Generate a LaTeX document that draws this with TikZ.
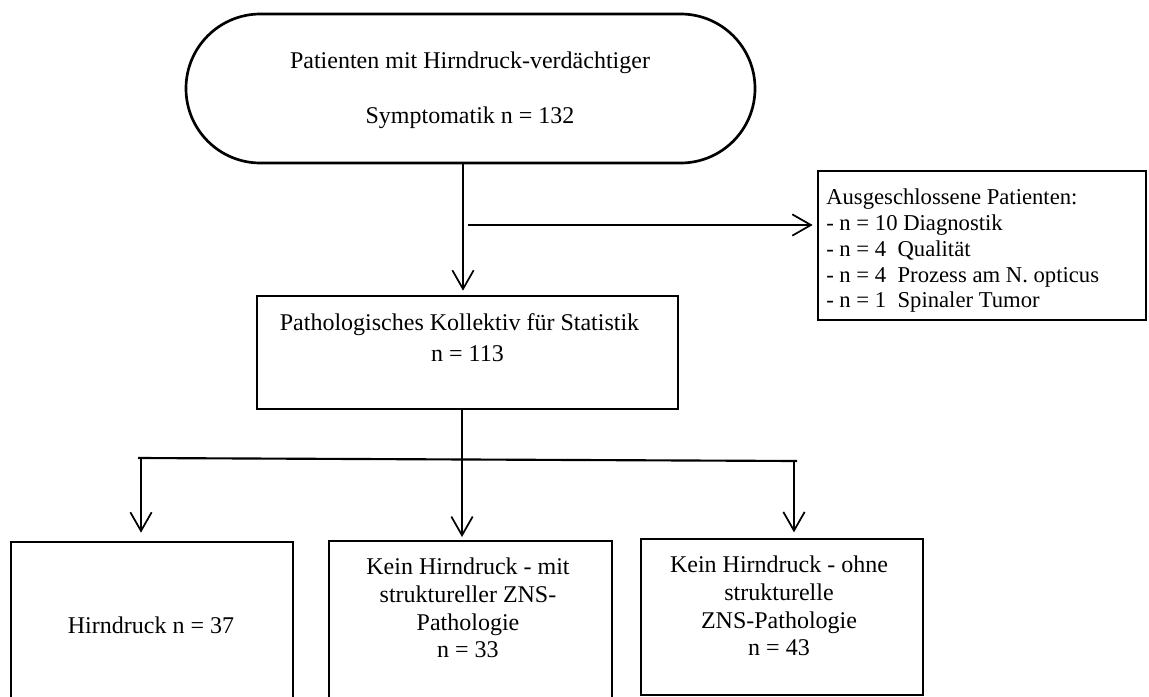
\documentclass[tikz,border=0pt]{standalone}
\usepackage{fontspec}
\setmainfont{Liberation Serif}
\usetikzlibrary{arrows.meta,fit,calc}
\tikzset{
  boxline/.style={draw=black, line width=2pt, inner sep=0pt, fill=white},
  stadium/.style={boxline, rounded corners=55.8pt},
  txt/.style={inner sep=0pt, font=\fontsize{18pt}{21.6pt}\selectfont, align=center},
  smalltxt/.style={inner sep=0pt, font=\fontsize{17pt}{19.3pt}\selectfont, align=left},
  bottxt/.style={inner sep=0pt, font=\fontsize{18pt}{20.75pt}\selectfont, align=center},
  arr/.style={draw=black, line width=1.3pt, -{Straight Barb[length=14pt,width=16pt]}},
  branch/.style={draw=black, line width=1.6pt},
}
\begin{document}
\begin{tikzpicture}[x=0.75pt, y=-0.75pt]
\useasboundingbox (0,0) rectangle (1149,696);
\fill[white] (0,0) rectangle (1149,696);
\clip (0,0) rectangle (1149,696);

% nodes (boxes)
\node[stadium, fit={(186,14) (755,163)}] (stad) {};
\node[boxline, fit={(257,296) (678,409)}] (mid) {};
\node[boxline, fit={(818,171) (1146,320)}] (excl) {};
\node[boxline, fit={(11,542) (293,705)}] (b1) {};
\node[boxline, fit={(329,541) (612,705)}] (b2) {};
\node[boxline, fit={(641,539) (923,695)}] (b3) {};

% texts
\node[txt] (stadt) at (470,90.5) {Patienten mit Hirndruck-verdächtiger\\[20pt]Symptomatik n = 132};
\node[txt] (midt) at (467.5,337.5) {Pathologisches Kollektiv für Statistik\hspace*{12pt}\\[1.65pt]n = 113};
\node[smalltxt, anchor=west] (exclt) at (826,251) {Ausgeschlossene Patienten:\\- n = 10 Diagnostik\\- n = 4\ \ Qualität\\- n = 4\ \ Prozess am N. opticus\\- n = 1\ \ Spinaler Tumor};
\node[bottxt, anchor=base] (b1t) at (151,633) {Hirndruck n = 37};
\node[bottxt] (b2t) at (468,608) {Kein Hirndruck - mit\\struktureller ZNS-\\Pathologie\\n = 33};
\node[bottxt] (b3t) at (779,606) {Kein Hirndruck - ohne\\strukturelle\\ZNS-Pathologie\\n = 43};

% connectors
\coordinate (va) at (463,0);
\draw[arr, shorten >=3pt] (va |- stad.south) -- (va |- mid.north);
\coordinate (hj) at (468,225);
\draw[arr, shorten >=3pt] (hj) -- (hj -| excl.west);

\coordinate (bc) at (462,0);
\draw[arr, shorten >=2pt] (bc |- mid.south) -- (bc |- b2.north);
\coordinate (hl) at (138,458);
\coordinate (hr) at (797,461);
\draw[branch] (hl) -- (hr);
\coordinate (bl) at (141,458);
\coordinate (br) at (794,460.5);
\draw[arr, shorten >=6pt] (bl) -- (bl |- b1.north);
\draw[arr, shorten >=4pt] (br) -- (br |- b3.north);
\end{tikzpicture}
\end{document}
